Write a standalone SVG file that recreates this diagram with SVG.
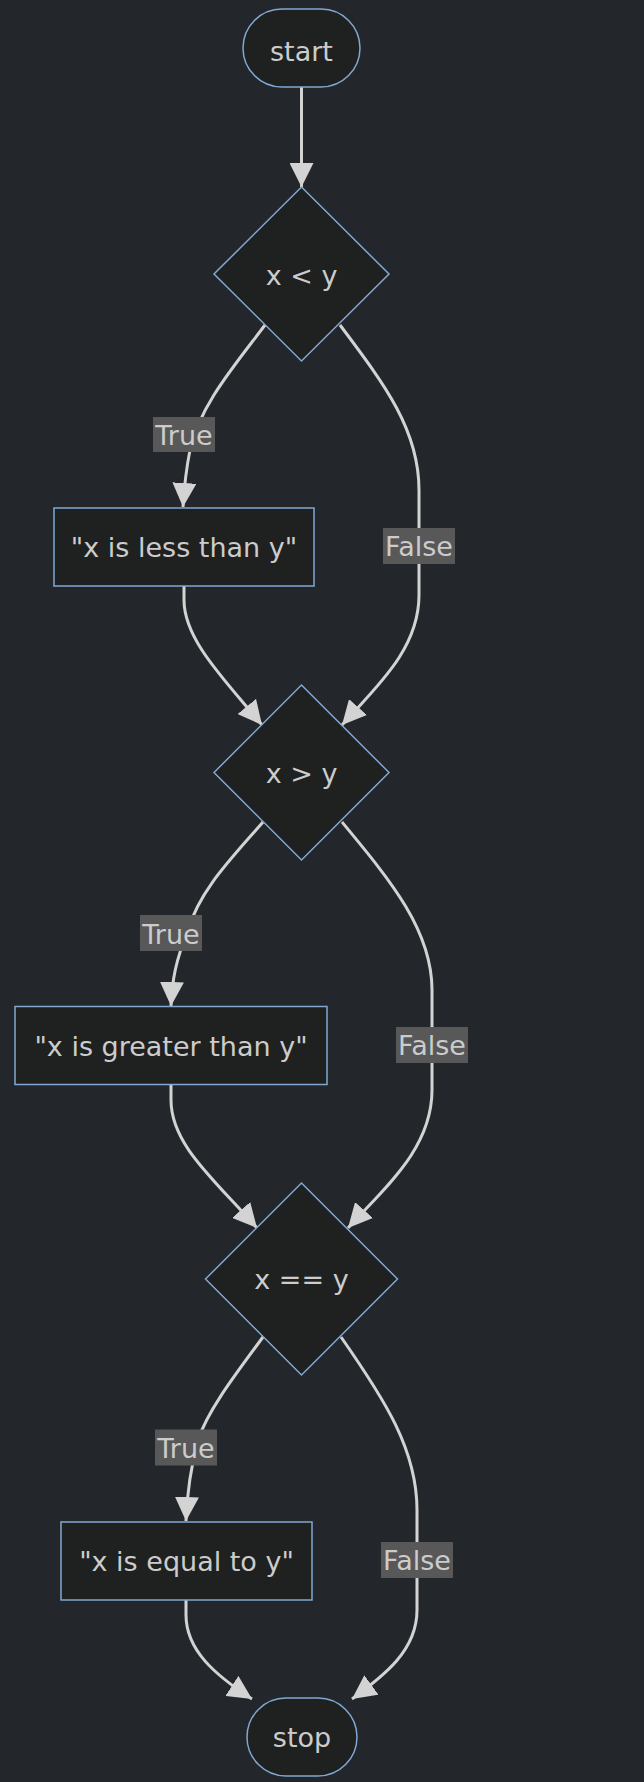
<svg xmlns="http://www.w3.org/2000/svg" width="644" height="1782" viewBox="0 0 644 1782">
<style>
.bg{fill:#23262b}
.node{fill:#1f2020;stroke:#81a8d2;stroke-width:1.5}
.ntext{font-family:"DejaVu Sans",sans-serif;font-size:27px;fill:#cccccc;text-anchor:middle}
.edge{fill:none;stroke:#d3d3d3;stroke-width:3}
.lbox{fill:#585858}
.ltext{font-family:"DejaVu Sans",sans-serif;font-size:27px;fill:#cccccc;text-anchor:middle}
</style>
<defs>
<marker id="arr" markerUnits="userSpaceOnUse" viewBox="0 0 10 10" refX="10" refY="5" markerWidth="24" markerHeight="24" orient="auto">
<path d="M0,0 L10,5 L0,10 z" fill="#d3d3d3"/>
</marker>
</defs>
<rect class="bg" x="0" y="0" width="644" height="1782"/>
<g id="edges">
<path class="edge" marker-end="url(#arr)" d="M301.5,87 L301.5,187"/>
<path class="edge" marker-end="url(#arr)" d="M265,325 C235,365 200,405 190,450 C186,470 184,490 183,507"/>
<path class="edge" marker-end="url(#arr)" d="M340,325 C385,385 419,430 419,490 L419,595 C419,650 375,688 342,725"/>
<path class="edge" marker-end="url(#arr)" d="M184,586 L184,600 C184,640 225,680 262,725"/>
<path class="edge" marker-end="url(#arr)" d="M263,822 C230,860 200,890 188,930 C176,960 172,980 171,1006"/>
<path class="edge" marker-end="url(#arr)" d="M342,822 C390,880 432,930 432,990 L432,1090 C432,1150 382,1190 348,1228"/>
<path class="edge" marker-end="url(#arr)" d="M171,1085 L171,1100 C171,1145 215,1180 257,1228"/>
<path class="edge" marker-end="url(#arr)" d="M263,1337 C235,1375 208,1410 198,1440 C190,1470 187,1495 186,1521"/>
<path class="edge" marker-end="url(#arr)" d="M341,1337 C385,1400 417,1450 417,1510 L417,1610 C417,1650 385,1675 352,1699"/>
<path class="edge" marker-end="url(#arr)" d="M186,1600 L186,1615 C186,1650 215,1675 252,1699"/>
</g>
<g id="edge-labels">
<g id="label-true-1"><rect class="lbox" x="153" y="417" width="62" height="35"/><text class="ltext" x="184" y="445">True</text></g>
<g id="label-false-1"><rect class="lbox" x="383" y="528" width="72" height="36"/><text class="ltext" x="419" y="556">False</text></g>
<g id="label-true-2"><rect class="lbox" x="140" y="915" width="62" height="36"/><text class="ltext" x="171" y="943.5">True</text></g>
<g id="label-false-2"><rect class="lbox" x="396" y="1027" width="72" height="36"/><text class="ltext" x="432" y="1055">False</text></g>
<g id="label-true-3"><rect class="lbox" x="155" y="1429.5" width="62" height="36"/><text class="ltext" x="186" y="1458">True</text></g>
<g id="label-false-3"><rect class="lbox" x="381" y="1542" width="72" height="36"/><text class="ltext" x="417" y="1570">False</text></g>
</g>
<g id="start"><rect class="node" x="243" y="9" width="117" height="78" rx="39" ry="39"/><text class="ntext" x="301.5" y="60.5">start</text></g>
<g id="cond1"><polygon class="node" points="301.5,187 389,274 301.5,361 214,274"/><text class="ntext" x="301.5" y="284.5">x &lt; y</text></g>
<g id="less"><rect class="node" x="54" y="508" width="260" height="78"/><text class="ntext" x="184" y="557">"x is less than y"</text></g>
<g id="cond2"><polygon class="node" points="301.5,685 389,772.5 301.5,860 214,772.5"/><text class="ntext" x="301.5" y="782.5">x &gt; y</text></g>
<g id="greater"><rect class="node" x="15" y="1006.5" width="312" height="78"/><text class="ntext" x="171" y="1055.5">"x is greater than y"</text></g>
<g id="cond3"><polygon class="node" points="301.5,1183 397.5,1279 301.5,1375 205.5,1279"/><text class="ntext" x="301.5" y="1289">x == y</text></g>
<g id="equal"><rect class="node" x="61" y="1522" width="251" height="78"/><text class="ntext" x="186.5" y="1571">"x is equal to y"</text></g>
<g id="stop"><rect class="node" x="247" y="1698" width="110" height="78" rx="39" ry="39"/><text class="ntext" x="302" y="1746.5">stop</text></g>
</svg>
